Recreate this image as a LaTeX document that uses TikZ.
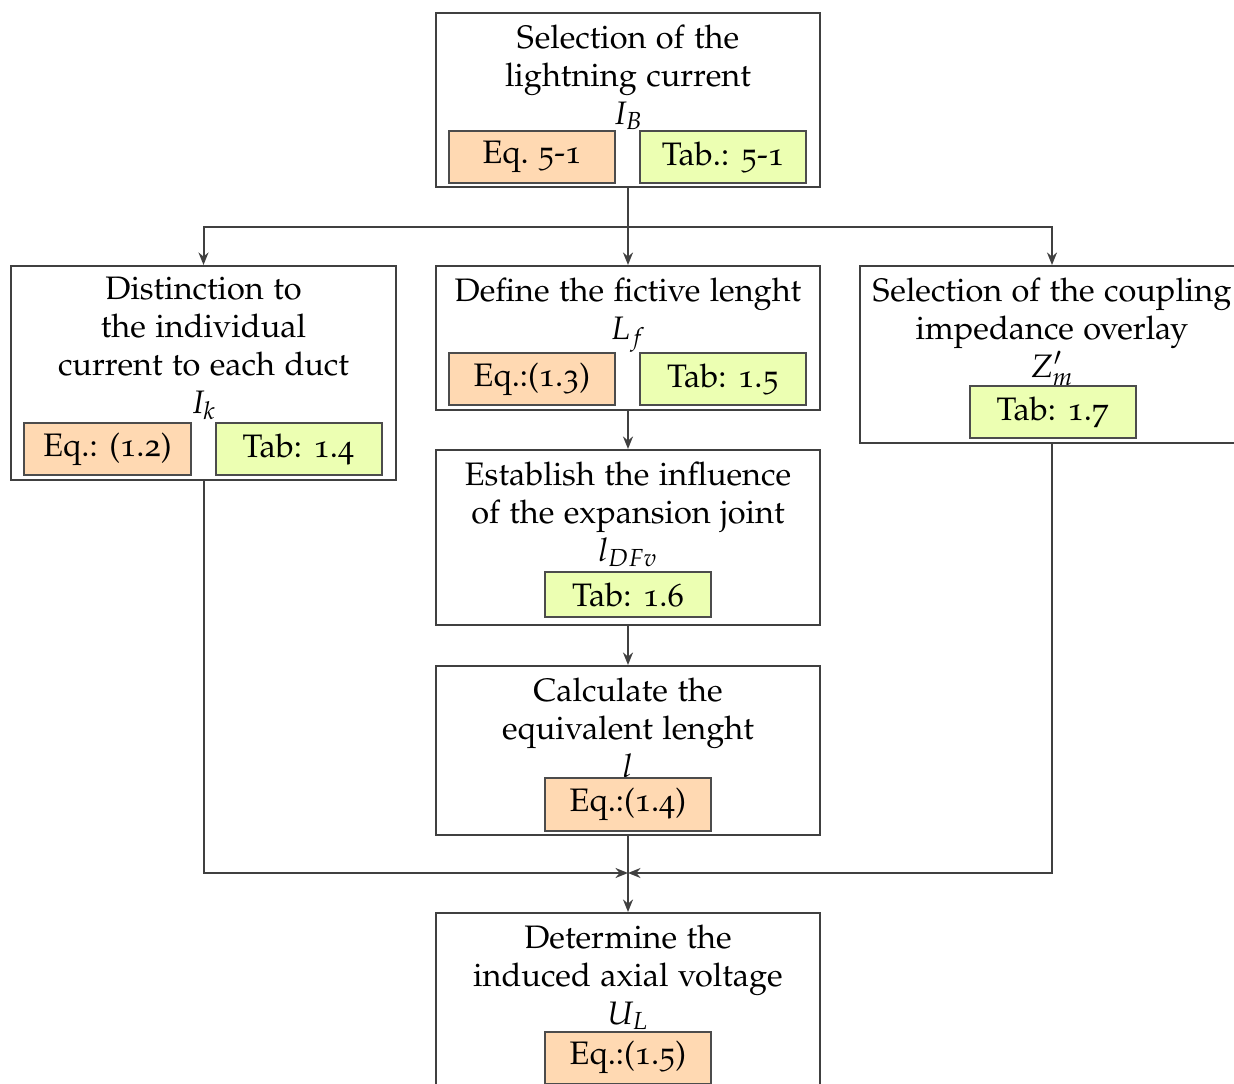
\documentclass[tikz,border=0pt]{standalone}
\usepackage[T1]{fontenc}
\usepackage[osf]{mathpazo}
\usetikzlibrary{arrows.meta}

\begin{document}
\begin{tikzpicture}[x=0.4pt, y=-0.4pt, >={Stealth[length=5pt, width=4pt]},
    every node/.style={font=\fontsize{13}{15.2}\selectfont},
    frame/.style={draw=black!75, line width=0.8pt, inner sep=0pt, minimum width=153.6pt},
    caption/.style={anchor=north, align=center, inner sep=0pt},
    refbox/.style={draw=black!70, line width=0.8pt, inner sep=0pt, minimum width=66.4pt, minimum height=20.8pt},
    eqbox/.style={refbox, fill=orange!30},
    tabbox/.style={refbox, fill=lime!30},
    flow/.style={->, draw=black!75, line width=0.8pt}]

        \useasboundingbox (0,0) rectangle (1234,1084);

        % --- Khung chính ---
        \node[frame, minimum height=69.6pt] (select) at (628,100) {};
        \node[frame, minimum width=154pt, minimum height=85.6pt] (distinct) at (203.5,373) {};
        \node[frame, minimum height=57.6pt] (fictive) at (628,338) {};
        \node[frame, minimum height=70.8pt] (coupling) at (1052,354.5) {};
        \node[frame, minimum height=70pt] (joint) at (628,537.5) {};
        \node[frame, minimum height=67.6pt] (equiv) at (628,750.5) {};
        \node[frame, minimum height=72pt] (voltage) at (628,1003) {};

        % --- Nội dung chữ ---
        \node[caption] (selectText) at ([yshift=-4.8pt]select.north)
            {Selection of the\\ lightning current\\ $I_B$};
        \node[caption] (distinctText) at ([yshift=-4.4pt]distinct.north)
            {Distinction to\\ the individual\\ current to each duct\\ $I_k$};
        \node[caption] (fictiveText) at ([yshift=-4.8pt]fictive.north)
            {Define the fictive lenght\\ $L_f$};
        \node[caption] (couplingText) at ([yshift=-4.8pt]coupling.north)
            {Selection of the coupling\\ impedance overlay\\ $Z'_m$};
        \node[caption] (jointText) at ([yshift=-4.8pt]joint.north)
            {Establish the influence\\ of the expansion joint\\ $l_{DFv}$};
        \node[caption] (equivText) at ([yshift=-4.8pt]equiv.north)
            {Calculate the\\ equivalent lenght\\ $l$};
        \node[caption] (voltageText) at ([yshift=-4.8pt]voltage.north)
            {Determine the\\ induced axial voltage\\ $U_L$};

        % --- Ô tham chiếu: phương trình và bảng ---
        \node[eqbox] (selectEq) at (532,157) {Eq.\ 5-1};
        \node[tabbox] (selectTab) at (723,157) {Tab.: 5-1};
        \node[eqbox] (distinctEq) at (107.5,449) {Eq.: (1.2)};
        \node[tabbox] (distinctTab) at (298.5,449) {Tab: 1.4};
        \node[eqbox] (fictiveEq) at (532,379) {Eq.:(1.3)};
        \node[tabbox] (fictiveTab) at (723,379) {Tab: 1.5};
        \node[tabbox] (couplingTab) at (1052.5,412.5) {Tab: 1.7};
        \node[tabbox, minimum height=18pt] (jointTab) at (628,595) {Tab: 1.6};
        \node[eqbox] (equivEq) at (628,804.5) {Eq.:(1.4)};
        \node[eqbox] (voltageEq) at (628,1057.5) {Eq.:(1.5)};

        % --- Điểm rẽ nhánh ---
        \coordinate (split) at (628,227);
        \coordinate (merge) at (628,873);

        % --- Mũi tên ---
        \draw[flow] (select.south) -- (fictive.north);
        \draw[flow] (split) -| (distinct.north);
        \draw[flow] (split) -| (coupling.north);
        \draw[flow] (fictive.south) -- (joint.north);
        \draw[flow] (joint.south) -- (equiv.north);
        \draw[flow] (equiv.south) -- (voltage.north);
        \draw[flow] (distinct.south) |- (merge);
        \draw[flow] (coupling.south) |- (merge);
    \end{tikzpicture}
\end{document}
